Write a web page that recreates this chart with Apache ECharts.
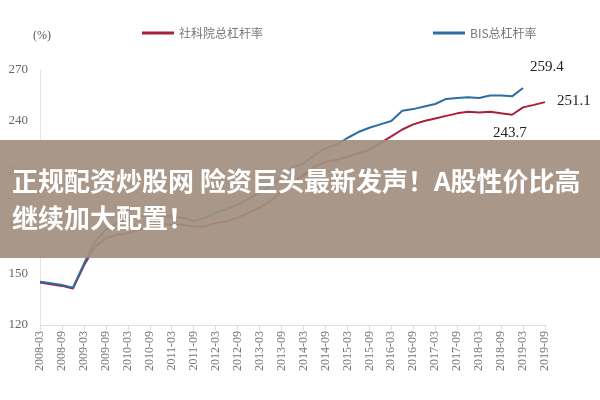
<!DOCTYPE html>
<html><head><meta charset="utf-8">
<script src="https://cdn.jsdelivr.net/npm/echarts@6/dist/echarts.min.js"></script>
<style>html,body{margin:0;padding:0;background:#fff}#c{width:600px;height:400px}</style>
</head><body><div id="c"></div>
<script>
const categories = [];
for (let y = 2008; y <= 2019; y++) for (const m of ['03','06','09','12']) { const s = y + '-' + m; if (s <= '2019-09') categories.push(s); }
const cassValues = [145,144,143,141.5,155,166,171,173,174,176,178,179.5,179,179,178,178,180,181,183,186,189,193,198,204,208,213,216,217,219,221,223,227,231,235,238,240,241.5,243,244.5,245.5,245,245.5,244.5,243.7,248,249.5,251.1];
const bisValues = [145.5,144.5,143.5,142,156,169,176,180,182,184,184,183.5,184,183,181,183,186,188,191,194,198,202,207,213,215,220,224,226,230,233.5,236,238,240,246,247,248.5,250,253,253.5,254,253.5,255,255,254.5,259.4];
const yTicks = [120,150,180,210,240,270];
const chart = echarts.init(document.getElementById('c'));
const serif = 'Liberation Serif';
chart.setOption({
  animation:false,
  legend:{top:22,left:137,itemGap:170,itemWidth:32,itemHeight:3,icon:'rect',
    textStyle:{fontFamily:'Noto Sans CJK SC',fontSize:12,color:'#777'},
    data:['社科院总杠杆率','BIS总杠杆率']},
  grid:{left:40,right:55,top:70,bottom:75},
  xAxis:{type:'category',data:categories,boundaryGap:false,
    axisLine:{lineStyle:{color:'#ddd'}},axisTick:{interval:1,lineStyle:{color:'#ddd'}},
    axisLabel:{interval:1,rotate:90,fontFamily:serif,fontSize:12,color:'#777',margin:6}},
  yAxis:{type:'value',min:yTicks[0],max:yTicks[yTicks.length-1],interval:30,
    axisLine:{show:true,lineStyle:{color:'#e4e4e4'}},axisTick:{show:false},splitLine:{show:false},
    axisLabel:{fontFamily:serif,fontSize:13,color:'#666',margin:12}},
  series:[
    {name:'社科院总杠杆率',type:'line',data:cassValues,symbol:'none',lineStyle:{color:'#a8213a',width:2},itemStyle:{color:'#a8213a'}},
    {name:'BIS总杠杆率',type:'line',data:bisValues,symbol:'none',lineStyle:{color:'#2e6da4',width:2},itemStyle:{color:'#2e6da4'}}
  ],
  graphic:[
    {type:'text',left:33,top:30,style:{text:'(%)',font:'12px "Liberation Serif"',fill:'#555'}},
    {type:'text',left:530,top:60,style:{text:'259.4',font:'15px "Liberation Serif"',fill:'#222'}},
    {type:'text',left:557,top:94,style:{text:'251.1',font:'15px "Liberation Serif"',fill:'#222'}},
    {type:'text',left:493,top:126,style:{text:'243.7',font:'15px "Liberation Serif"',fill:'#222'}},
    {type:'rect',shape:{x:0,y:140,width:600,height:118},style:{fill:'rgba(163,143,128,0.93)'},z:100},
    {type:'text',left:12,top:168,z:101,style:{text:'正规配资炒股网 险资巨头最新发声！A股性价比高',font:'bold 26px "Noto Sans CJK SC"',fill:'#fff'}},
    {type:'text',left:12,top:205,z:101,style:{text:'继续加大配置！',font:'bold 26px "Noto Sans CJK SC"',fill:'#fff'}}
  ]
});
</script></body></html>
